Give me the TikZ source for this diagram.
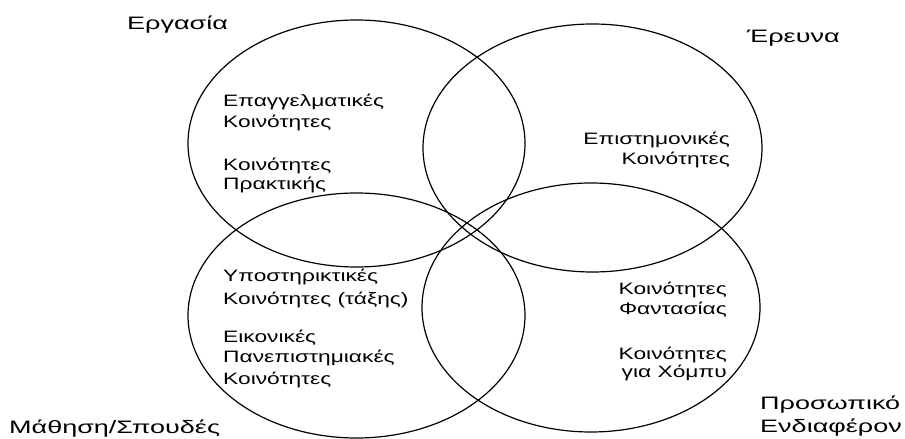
\documentclass[tikz,border=0pt]{standalone}
\usepackage{fontspec}
\setmainfont{Liberation Sans}
\newfontfamily\innerfont[FakeStretch=1.38]{Liberation Sans}
\newfontfamily\outerfont[FakeStretch=1.5]{Liberation Sans}
\begin{document}
\begin{tikzpicture}[x=1pt,y=1pt,
  venn/.style={draw=black, line width=1.2pt},
  inner/.style={font=\innerfont\fontsize{16.5}{19}\selectfont, inner sep=0pt},
  outer/.style={font=\outerfont\fontsize{18}{21}\selectfont, inner sep=0pt}]
\useasboundingbox[fill=white] (0,0) rectangle (905,439);
% ellipse centres
\coordinate (work) at (356.5,295.5);
\coordinate (research) at (592.5,291);
\coordinate (study) at (356.5,123.5);
\coordinate (personal) at (591,131.5);
\draw[venn] (work) ellipse [x radius=168.5, y radius=123.5];
\draw[venn] (research) ellipse [x radius=169.5, y radius=124];
\draw[venn] (study) ellipse [x radius=168.5, y radius=122.5];
\draw[venn] (personal) ellipse [x radius=169, y radius=124.5];
% outer labels
\node[outer, anchor=base west] (lwork) at (127,409) {Εργασία};
\node[outer, anchor=base west] (lres) at (747,396) {Έρευνα};
\node[outer, anchor=base west] (lstudy) at (9,5) {Μάθηση/Σπουδές};
\node[outer, anchor=base west] (lpers1) at (760,29) {Προσωπικό};
\node[outer, anchor=base west] (lpers2) at (760,6) {Ενδιαφέρον};
% work
\node[inner, anchor=base west] (w1) at (223,332) {Επαγγελματικές};
\node[inner, anchor=base west] (w2) at (223,311) {Κοινότητες};
\node[inner, anchor=base west] (w3) at (223,268) {Κοινότητες};
\node[inner, anchor=base west] (w4) at (223,249) {Πρακτικής};
% research
\node[inner, anchor=base east] (r1) at (730,294) {Επιστημονικές};
\node[inner, anchor=base east] (r2) at (730,274) {Κοινότητες};
% study
\node[inner, anchor=base west] (s1) at (223,157) {Υποστηρικτικές};
\node[inner, anchor=base west] (s2) at (223,134) {Κοινότητες (τάξης)};
\node[inner, anchor=base west] (s3) at (223,96) {Εικονικές};
\node[inner, anchor=base west] (s4) at (223,76) {Πανεπιστημιακές};
\node[inner, anchor=base west] (s5) at (223,54) {Κοινότητες};
% personal
\node[inner, anchor=base east] (p1) at (727,144) {Κοινότητες};
\node[inner, anchor=base east] (p2) at (727,124) {Φαντασίας};
\node[inner, anchor=base east] (p3) at (727,79) {Κοινότητες};
\node[inner, anchor=base east] (p4) at (727,61) {για Χόμπυ};
\end{tikzpicture}
\end{document}
